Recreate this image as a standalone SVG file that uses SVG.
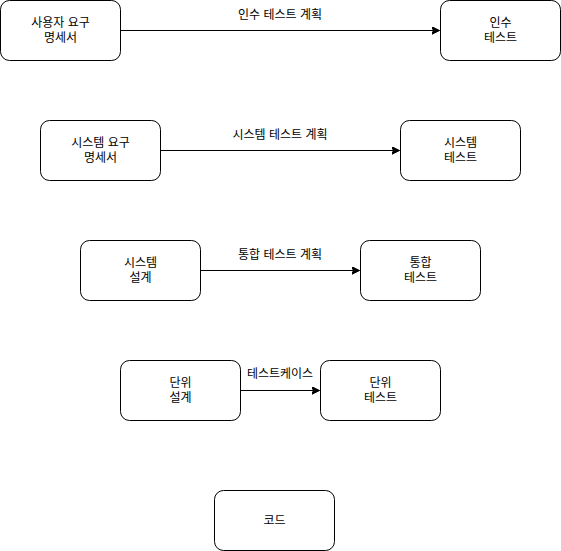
<svg xmlns="http://www.w3.org/2000/svg" width="561" height="551" viewBox="0 0 561 551">
<defs>
<marker id="arr" markerWidth="10" markerHeight="10" refX="8" refY="4" orient="auto" markerUnits="userSpaceOnUse">
<path d="M0,0 L8,4 L0,8 L2,4 Z" fill="#000" stroke="#000" stroke-width="1"/>
</marker>
<style>
.box{fill:#fff;stroke:#000;stroke-width:1}
text{font-family:"Liberation Sans","Noto Sans CJK KR",sans-serif;font-size:12px;fill:#000;text-anchor:middle}
.edge{stroke:#000;stroke-width:1;fill:none;marker-end:url(#arr)}
</style>
</defs>
<rect width="561" height="551" fill="#fff"/>
<g id="connectors">
<path class="edge" d="M120.5,30.5 L439.5,30.5"/>
<path class="edge" d="M160.5,150.5 L399.5,150.5"/>
<path class="edge" d="M200.5,270.5 L359.5,270.5"/>
<path class="edge" d="M240.5,390.5 L319.5,390.5"/>
<text x="280" y="19">인수 테스트 계획</text>
<text x="280" y="139">시스템 테스트 계획</text>
<text x="280" y="259">통합 테스트 계획</text>
<text x="280" y="378">테스트케이스</text>
</g>
<g id="n1"><rect class="box" x="0.5" y="0.5" width="120" height="60" rx="9"/><text x="60.5" y="27">사용자 요구</text><text x="60.5" y="42">명세서</text></g>
<g id="n2"><rect class="box" x="440.5" y="0.5" width="120" height="60" rx="9"/><text x="500.5" y="27">인수</text><text x="500.5" y="42">테스트</text></g>
<g id="n3"><rect class="box" x="40.5" y="120.5" width="120" height="60" rx="9"/><text x="100.5" y="147">시스템 요구</text><text x="100.5" y="162">명세서</text></g>
<g id="n4"><rect class="box" x="400.5" y="120.5" width="120" height="60" rx="9"/><text x="460.5" y="147">시스템</text><text x="460.5" y="162">테스트</text></g>
<g id="n5"><rect class="box" x="80.5" y="240.5" width="120" height="60" rx="9"/><text x="140.5" y="267">시스템</text><text x="140.5" y="282">설계</text></g>
<g id="n6"><rect class="box" x="360.5" y="240.5" width="120" height="60" rx="9"/><text x="420.5" y="267">통합</text><text x="420.5" y="282">테스트</text></g>
<g id="n7"><rect class="box" x="120.5" y="360.5" width="120" height="60" rx="9"/><text x="180.5" y="387">단위</text><text x="180.5" y="402">설계</text></g>
<g id="n8"><rect class="box" x="320.5" y="360.5" width="120" height="60" rx="9"/><text x="380.5" y="387">단위</text><text x="380.5" y="402">테스트</text></g>
<g id="n9"><rect class="box" x="214.5" y="490.5" width="120" height="60" rx="9"/><text x="274.5" y="525">코드</text></g>
</svg>
